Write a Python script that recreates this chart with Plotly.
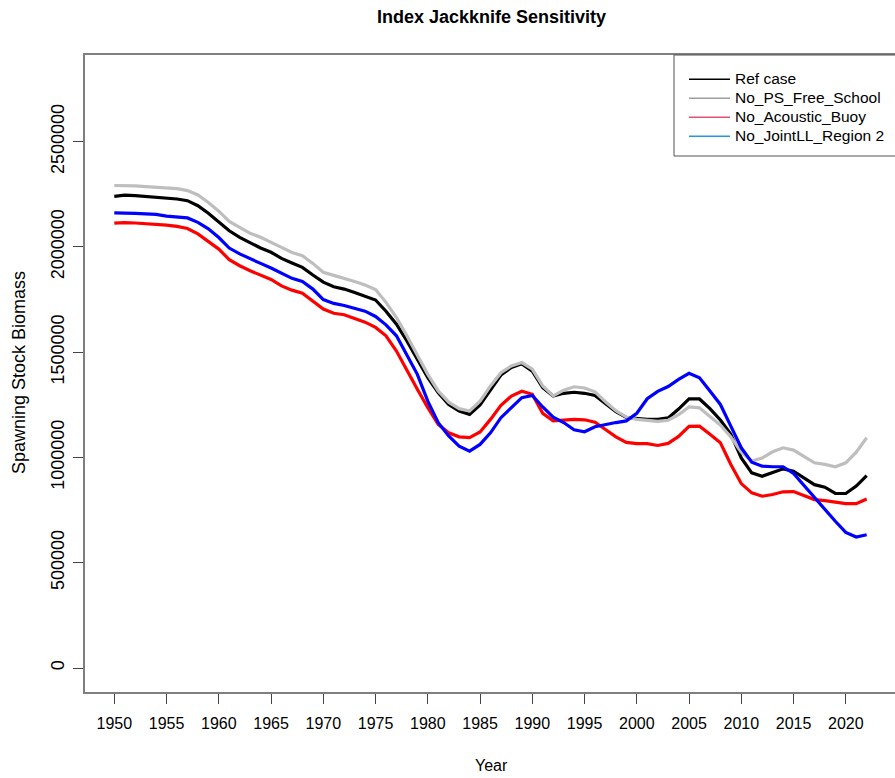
import plotly.graph_objects as go

years = list(range(1950, 2023))

ref_case = [2240, 2246, 2244, 2240, 2235, 2232, 2228, 2220, 2196, 2160,
            2120, 2077, 2046, 2019, 1995, 1975, 1946, 1924, 1903, 1867,
            1833, 1811, 1800, 1784, 1768, 1748, 1695, 1633, 1554, 1467,
            1379, 1308, 1252, 1221, 1205, 1250, 1320, 1392, 1428, 1445,
            1410, 1332, 1292, 1305, 1310, 1305, 1295, 1255, 1218, 1190,
            1184, 1181, 1181, 1188, 1230, 1278, 1278, 1232, 1178, 1110,
            998, 927, 911, 930, 946, 935, 903, 871, 859, 829,
            829, 864, 914]

no_ps_free_school = [2292, 2292, 2290, 2287, 2284, 2281, 2277, 2268, 2247, 2211,
                     2170, 2121, 2094, 2065, 2046, 2024, 1998, 1974, 1959, 1922,
                     1880, 1865, 1852, 1836, 1819, 1798, 1737, 1665, 1578, 1483,
                     1395, 1316, 1263, 1232, 1221, 1268, 1340, 1403, 1435, 1451,
                     1420, 1340, 1293, 1320, 1336, 1330, 1312, 1265, 1222, 1192,
                     1181, 1176, 1172, 1177, 1203, 1240, 1236, 1195, 1154, 1097,
                     1025, 983, 998, 1027, 1046, 1035, 1006, 975, 967, 956,
                     975, 1025, 1094]

no_acoustic_buoy = [2113, 2116, 2114, 2111, 2108, 2104, 2098, 2088, 2062, 2025,
                    1990, 1940, 1911, 1887, 1866, 1846, 1815, 1795, 1780, 1742,
                    1705, 1685, 1678, 1660, 1643, 1618, 1578, 1506, 1411, 1324,
                    1237, 1157, 1117, 1098, 1094, 1121, 1181, 1248, 1292, 1315,
                    1300, 1210, 1174, 1178, 1181, 1179, 1168, 1133, 1098, 1072,
                    1066, 1066, 1057, 1067, 1100, 1148, 1149, 1110, 1070, 967,
                    876, 832, 816, 824, 837, 838, 819, 800, 795, 787,
                    781, 781, 803]

no_jointll_region2 = [2162, 2162, 2160, 2157, 2155, 2147, 2144, 2138, 2117, 2086,
                      2045, 1995, 1967, 1943, 1922, 1900, 1877, 1851, 1836, 1800,
                      1750, 1732, 1722, 1710, 1695, 1670, 1630, 1578, 1490, 1395,
                      1268, 1165, 1102, 1054, 1030, 1062, 1117, 1189, 1237, 1284,
                      1295, 1240, 1192, 1166, 1132, 1122, 1146, 1157, 1166, 1174,
                      1210, 1279, 1314, 1337, 1371, 1400, 1379, 1316, 1252, 1149,
                      1046, 978, 959, 956, 956, 924, 867, 808, 752, 697,
                      644, 622, 633]

series_names = ["Ref case", "No_PS_Free_School", "No_Acoustic_Buoy", "No_JointLL_Region 2"]
series_values = [ref_case, no_ps_free_school, no_acoustic_buoy, no_jointll_region2]
line_colors = ["#000000", "#BEBEBE", "#FF0000", "#0000FF"]
legend_colors = ["#000000", "#9E9E9E", "#DF536B", "#2297E6"]

x_tick_vals = list(range(1950, 2021, 5))
y_tick_vals = [0, 500000, 1000000, 1500000, 2000000, 2500000]
y_tick_text = ["0", "500000", "1000000", "1500000", "2000000", "2500000"]

FONT = "Liberation Sans, Arial, sans-serif"

# pixel geometry helpers (plot area: x 85..895, y 55..692)
L, R, T, B = 85, 895, 55, 692
def px(xp):
    return (xp - L) / (R - L)
def py(yp):
    return (B - yp) / (B - T)

fig = go.Figure()
for name, vals, col in zip(series_names, series_values, line_colors):
    fig.add_trace(go.Scatter(x=years, y=[v * 1000 for v in vals], mode="lines",
                             line=dict(color=col, width=3.2), name=name,
                             showlegend=False, hoverinfo="x+y+name"))
for name, col in zip(series_names, legend_colors):
    fig.add_trace(go.Scatter(x=[None], y=[None], mode="lines",
                             line=dict(color=col, width=1.5),
                             name="<span style='font-size:15.5px'>" + name + "</span>",
                             showlegend=True))

fig.update_layout(
    width=895, height=778,
    margin=dict(l=L, r=0, t=T, b=778 - B, autoexpand=False),
    paper_bgcolor="white", plot_bgcolor="white",
    font=dict(family=FONT, color="black", size=16),
    title=dict(text="<b>Index Jackknife Sensitivity</b>", x=491.5 / 895, xanchor="center",
               y=1 - 17 / 778, yanchor="middle", font=dict(size=18, family=FONT)),
    xaxis=dict(range=[1947.196, 2024.71], tickmode="array", tickvals=x_tick_vals,
               showgrid=False, zeroline=False, showline=True, linecolor="#7f7f7f",
               linewidth=1.5, mirror=True, ticks="outside", ticklen=10, tickwidth=1,
               tickcolor="#444444", tickfont=dict(size=16, family=FONT),
               ticklabelstandoff=6),
    yaxis=dict(range=[-114000, 2912000], tickmode="array", tickvals=y_tick_vals,
               ticktext=y_tick_text, showgrid=False, zeroline=False, showline=True,
               linecolor="#7f7f7f", linewidth=1.5, mirror=False, ticks="outside",
               ticklen=10, tickwidth=1, tickcolor="#444444", tickangle=-90,
               tickfont=dict(size=18, family=FONT), ticklabelstandoff=2),
    legend=dict(x=px(684), y=py(64.8), xanchor="left", yanchor="top",
                bgcolor="rgba(0,0,0,0)", borderwidth=0,
                font=dict(size=12.3, family=FONT), itemwidth=41, tracegroupgap=0),
    shapes=[
        dict(type="rect", xref="paper", yref="paper", x0=px(674), x1=px(905),
             y0=py(156), y1=1, line=dict(color="#555555", width=1),
             fillcolor="white", layer="above"),
    ],
    annotations=[
        dict(text="Year", x=px(491), y=py(765), xref="paper", yref="paper",
             xanchor="center", yanchor="middle", showarrow=False, font=dict(size=16)),
        dict(text="Spawning Stock Biomass", x=px(19), y=py(373),
             xref="paper", yref="paper", xanchor="center", yanchor="middle",
             textangle=-90, showarrow=False, font=dict(size=18)),
    ],
)

fig.write_html("out.html", config={"displayModeBar": False},
               post_script="document.body.style.margin='0px';document.body.style.overflow='hidden';")
